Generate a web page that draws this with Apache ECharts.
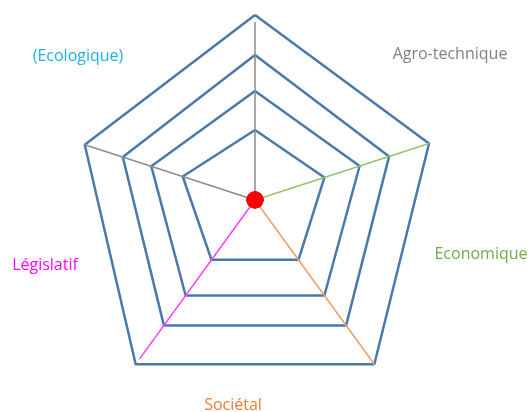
<!DOCTYPE html>
<html>
<head>
    <meta charset="UTF-8">
    <title>Radar</title>
    <script src="https://cdn.jsdelivr.net/npm/echarts@6/dist/echarts.min.js"></script>
    <style>
        html, body {
            margin: 0;
            padding: 0;
            background: #ffffff;
        }

        #chartContainer {
            width: 531px;
            height: 412px;
        }
    </style>
</head>
<body>
<div id="chartContainer"></div>
<script>
    // axes, counter-clockwise from the top
    var axisNames = ['Agro-technique', '(Ecologique)', 'Législatif', 'Sociétal', 'Economique'];

    // the four pentagons (same order as axisNames)
    var ring1 = [70, 76, 74, 74, 73];
    var ring2 = [109, 109, 118, 118, 110];
    var ring3 = [145, 139, 155, 155, 141];
    var ring4 = [185, 179, 203, 203, 183];

    // length of each coloured spoke
    var spokeLength = [178, 179, 196, 203, 183];
    var spokeColors = ['#8c8c8c', '#8c8c8c', '#ff3cff', '#f39c5f', '#92c46e'];

    // labels
    var labelTexts = ['(Ecologique)', 'Agro-technique', 'Economique', 'Sociétal', 'Législatif'];
    var labelColors = ['#1ab2ee', '#808080', '#70ad47', '#ed7d31', '#ff00ff'];
    var labelPos = [[78, 56], [450, 54], [481, 254], [233, 405], [45, 265]];

    function drawRadar() {
        var myChart = echarts.init(document.getElementById('chartContainer'));

        var indicator = [];
        for (var i = 0; i < axisNames.length; i++) {
            indicator.push({name: axisNames[i], min: 0, max: 200});
        }

        var series = [];
        // rings
        var rings = [ring1, ring2, ring3, ring4];
        for (var r = 0; r < rings.length; r++) {
            series.push({
                type: 'radar',
                symbol: 'none',
                silent: true,
                lineStyle: {color: '#4a78ad', width: 2.5},
                data: [{value: rings[r]}]
            });
        }
        // spokes: one axis at its length, others at zero
        for (var s = 0; s < spokeLength.length; s++) {
            var v = [0, 0, 0, 0, 0];
            v[s] = spokeLength[s];
            series.push({
                type: 'radar',
                symbol: 'none',
                silent: true,
                lineStyle: {color: spokeColors[s], width: 1.5},
                data: [{value: v}]
            });
        }
        // red dot in the middle
        series.push({
            type: 'radar',
            symbol: 'circle',
            symbolSize: 17,
            silent: true,
            itemStyle: {color: '#ff0000'},
            lineStyle: {width: 0},
            data: [{value: [0, 0, 0, 0, 0]}]
        });

        var graphic = [];
        for (var k = 0; k < labelTexts.length; k++) {
            graphic.push({
                type: 'text',
                x: labelPos[k][0],
                y: labelPos[k][1],
                style: {
                    text: labelTexts[k],
                    fill: labelColors[k],
                    font: '16px "Open Sans", sans-serif',
                    textAlign: 'center',
                    textVerticalAlign: 'middle'
                }
            });
        }

        var option = {
            animation: false,
            radar: {
                center: [255, 200],
                radius: 200,
                indicator: indicator,
                axisName: {show: false},
                splitLine: {show: false},
                splitArea: {show: false},
                axisLine: {show: false},
                axisTick: {show: false}
            },
            graphic: graphic,
            series: series
        };
        myChart.setOption(option);
    }

    window.onload = function () {
        drawRadar();
    };
</script>
</body>
</html>
